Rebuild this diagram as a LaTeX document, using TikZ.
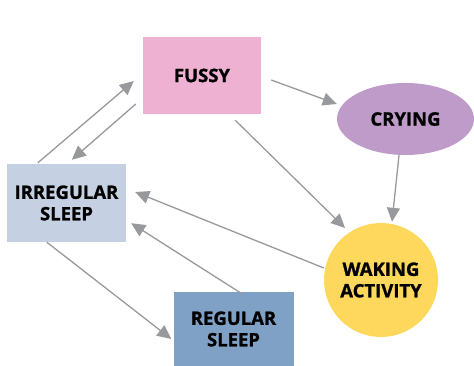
\documentclass[tikz,border=0pt]{standalone}
\usepackage{fontspec}
\setmainfont{Open Sans}[BoldFeatures={FakeBold=1.2}]
\usetikzlibrary{arrows.meta,calc,shapes.geometric}
\definecolor{cfussy}{HTML}{EEB1D2}
\definecolor{ccry}{HTML}{BF9BC9}
\definecolor{cwake}{HTML}{FDD85D}
\definecolor{cirr}{HTML}{C5D1E3}
\definecolor{creg}{HTML}{7FA1C6}
\definecolor{carrow}{HTML}{98999C}
\tikzset{
  lbl/.style={font=\fontsize{18.5}{21.5}\selectfont\bfseries, align=center, inner sep=0pt, text=black},
  boxnode/.style={lbl, rectangle, draw=none},
  conn/.style={draw=carrow, line width=1.3pt, -{Triangle[length=14pt,width=13pt]}}
}
\begin{document}
\begin{tikzpicture}[x=1pt,y=-1pt]
\useasboundingbox (0,0) rectangle (474,366);
\clip (0,0) rectangle (474,366);
\node[boxnode, fill=cfussy, minimum width=118pt, minimum height=77pt] (fussy) at (202,75.5) {FUSSY};
\node[lbl, ellipse, fill=ccry, minimum width=137pt, minimum height=72pt] (crying) at (405.5,119) {CRYING};
\node[lbl, circle, fill=cwake, minimum size=114pt] (waking) at (381,280) {WAKING\\ACTIVITY};
\node[boxnode, fill=cirr, minimum width=119pt, minimum height=78pt] (irreg) at (66.5,203) {IRREGULAR\\SLEEP};
\node[boxnode, fill=creg, minimum width=120pt, minimum height=74pt] (regular) at (233.5,329) {REGULAR\\SLEEP};

\draw[conn] ($(irreg.north west)+(31,-1)$) -- ($(fussy.west)+(-9,5.5)$);
\draw[conn] ($(fussy.west)+(-7,28.5)$) -- ($(irreg.north west)+(65,-4)$);
\draw[conn] ($(fussy.east)+(10,4.5)$) -- ($(crying.west)+(0,-15)$);
\draw[conn] ($(fussy.south east)+(-26,6)$) -- ($(waking.center)+(-36,-52)$);
\draw[conn] ($(crying.south)+(-6.5,0)$) -- ($(waking.north)+(11,-1)$);
\draw[conn] ($(waking.west)+(0,-12)$) -- ($(irreg.east)+(9,-11)$);
\draw[conn] ($(regular.north)+(8.5,2)$) -- ($(irreg.south east)+(5,-19)$);
\draw[conn] ($(irreg.south west)+(40,0)$) -- ($(regular.west)+(-2,10)$);
\end{tikzpicture}
\end{document}
